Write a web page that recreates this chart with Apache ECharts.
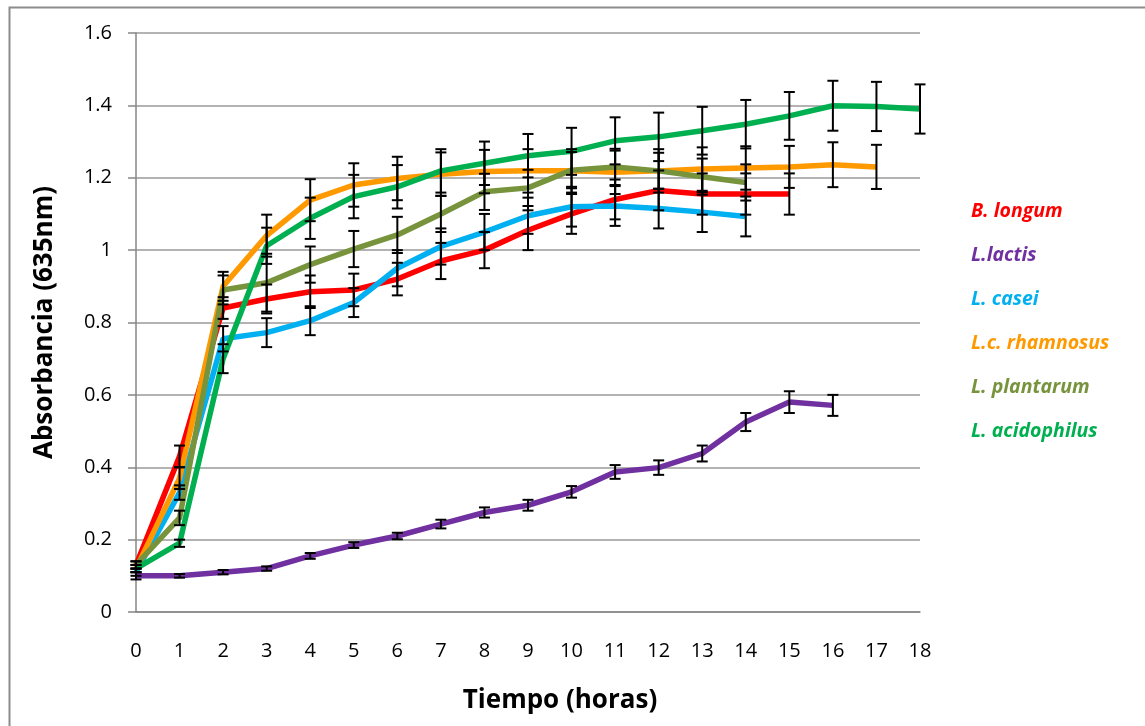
<!DOCTYPE html>
<html>
<head>
<meta charset="utf-8">
<title>Absorbancia vs Tiempo</title>
<script src="https://cdn.jsdelivr.net/npm/echarts@6/dist/echarts.min.js"></script>
<style>
  html, body { margin: 0; padding: 0; background: #fff; }
  #chart { width: 1145px; height: 726px; }
</style>
</head>
<body>
<div id="chart"></div>
<script>
// Time points (hours)
const hours = ['0','1','2','3','4','5','6','7','8','9','10','11','12','13','14','15','16','17','18'];

// Mean absorbance (635 nm) per strain
const longum      = [0.13, 0.43, 0.84, 0.865, 0.885, 0.89, 0.92, 0.97, 1.0, 1.055, 1.10, 1.14, 1.165, 1.155, 1.155, 1.155];
const lactis      = [0.10, 0.10, 0.11, 0.12, 0.155, 0.185, 0.21, 0.243, 0.275, 0.295, 0.332, 0.387, 0.399, 0.438, 0.525, 0.58, 0.571];
const casei       = [0.11, 0.33, 0.755, 0.772, 0.805, 0.855, 0.95, 1.01, 1.05, 1.095, 1.12, 1.122, 1.115, 1.105, 1.093];
const rhamnosus   = [0.12, 0.37, 0.90, 1.04, 1.138, 1.18, 1.198, 1.21, 1.217, 1.219, 1.219, 1.215, 1.219, 1.224, 1.227, 1.23, 1.236, 1.23];
const plantarum   = [0.13, 0.26, 0.89, 0.91, 0.96, 1.003, 1.042, 1.10, 1.161, 1.172, 1.221, 1.23, 1.219, 1.203, 1.187];
const acidophilus = [0.12, 0.19, 0.70, 1.012, 1.088, 1.148, 1.175, 1.219, 1.24, 1.261, 1.273, 1.302, 1.313, 1.33, 1.348, 1.371, 1.399, 1.397, 1.39];

// Standard deviations (error bar half-lengths)
const longumErr      = [0.01, 0.03, 0.03, 0.04, 0.045, 0.045, 0.045, 0.05, 0.05, 0.055, 0.055, 0.055, 0.055, 0.057, 0.057, 0.057];
const lactisErr      = [0.01, 0.005, 0.006, 0.006, 0.008, 0.008, 0.009, 0.012, 0.014, 0.015, 0.016, 0.019, 0.02, 0.022, 0.025, 0.03, 0.029];
const caseiErr       = [0.01, 0.02, 0.035, 0.04, 0.04, 0.04, 0.05, 0.05, 0.05, 0.05, 0.055, 0.055, 0.055, 0.055, 0.055];
const rhamnosusErr   = [0.01, 0.03, 0.04, 0.058, 0.058, 0.06, 0.06, 0.06, 0.06, 0.06, 0.06, 0.06, 0.06, 0.06, 0.06, 0.058, 0.062, 0.061];
const plantarumErr   = [0.01, 0.02, 0.04, 0.08, 0.05, 0.05, 0.05, 0.05, 0.05, 0.05, 0.05, 0.05, 0.05, 0.05, 0.05];
const acidophilusErr = [0.01, 0.01, 0.04, 0.05, 0.057, 0.06, 0.06, 0.06, 0.06, 0.06, 0.065, 0.065, 0.067, 0.066, 0.067, 0.066, 0.069, 0.068, 0.068];

const strains = [
  { name: 'B. longum',      color: '#FF0000', values: longum,      err: longumErr },
  { name: 'L.lactis',       color: '#7030A0', values: lactis,      err: lactisErr },
  { name: 'L. casei',       color: '#00B0F0', values: casei,       err: caseiErr },
  { name: 'L.c. rhamnosus', color: '#FF9900', values: rhamnosus,   err: rhamnosusErr },
  { name: 'L. plantarum',   color: '#77933C', values: plantarum,   err: plantarumErr },
  { name: 'L. acidophilus', color: '#00B050', values: acidophilus, err: acidophilusErr }
];

const FONT = '"Open Sans", Lato, sans-serif';

// Vertical whisker with caps, drawn through the axis scales
function renderErrorBar(params, api) {
  const i = api.value(0);
  const lo = api.coord([i, api.value(1)]);
  const hi = api.coord([i, api.value(2)]);
  const half = 5.5;
  const st = { stroke: '#000', lineWidth: 2 };
  return {
    type: 'group',
    children: [
      { type: 'line', shape: { x1: lo[0], y1: hi[1], x2: lo[0], y2: lo[1] }, style: st },
      { type: 'line', shape: { x1: lo[0] - half, y1: hi[1], x2: lo[0] + half, y2: hi[1] }, style: st },
      { type: 'line', shape: { x1: lo[0] - half, y1: lo[1], x2: lo[0] + half, y2: lo[1] }, style: st }
    ]
  };
}

const series = [];
strains.forEach(s => {
  series.push({
    name: s.name,
    type: 'line',
    data: s.values,
    symbol: 'none',
    lineStyle: { color: s.color, width: 5.5 },
    itemStyle: { color: s.color },
    z: 2
  });
});
strains.forEach(s => {
  series.push({
    name: s.name + ' err',
    type: 'custom',
    renderItem: renderErrorBar,
    data: s.values.map((v, i) => [i, v - s.err[i], v + s.err[i]]),
    encode: { x: 0, y: [1, 2] },
    z: 3,
    silent: true
  });
});

const chart = echarts.init(document.getElementById('chart'), null, { renderer: 'canvas' });
chart.setOption({
  backgroundColor: '#fff',
  animation: false,
  textStyle: { fontFamily: FONT },
  graphic: [{
    type: 'rect',
    left: 7, top: 5,
    shape: { width: 1160, height: 740 },
    style: { fill: 'none', stroke: '#8c8c8c', lineWidth: 2 },
    silent: true
  }],
  grid: { left: 136, right: 225, top: 33, bottom: 114 },
  legend: {
    orient: 'vertical',
    left: 961,
    top: 195,
    itemWidth: 0,
    itemHeight: 0,
    itemGap: 22,
    icon: 'rect',
    selectedMode: false,
    data: strains.map(s => ({
      name: s.name,
      textStyle: { color: s.color, fontFamily: FONT, fontSize: 19.5, fontWeight: 'bold', fontStyle: 'italic', lineHeight: 22 }
    }))
  },
  xAxis: {
    type: 'category',
    data: hours,
    boundaryGap: false,
    name: 'Tiempo (horas)',
    nameLocation: 'middle',
    nameGap: 76,
    nameTextStyle: { fontFamily: FONT, fontSize: 26, fontWeight: 'bold', color: '#000', padding: [0, 0, 0, 64] },
    axisLine: { lineStyle: { color: '#868686', width: 1.5 } },
    axisTick: { show: false },
    axisLabel: { margin: 29, fontFamily: FONT, fontSize: 20, color: '#000', interval: 0 },
    splitLine: { show: false }
  },
  yAxis: {
    type: 'value',
    min: 0, max: 1.6, interval: 0.2,
    name: 'Absorbancia (635nm)',
    nameLocation: 'middle',
    nameGap: 78,
    nameTextStyle: { fontFamily: FONT, fontSize: 26, fontWeight: 'bold', color: '#000' },
    axisLine: { show: true, lineStyle: { color: '#868686', width: 1.5 } },
    axisTick: { show: true, length: 8, lineStyle: { color: '#868686', width: 1.5 } },
    axisLabel: { margin: 24, fontFamily: FONT, fontSize: 20, color: '#000' },
    splitLine: { show: true, lineStyle: { color: '#9a9a9a', width: 1.5 } }
  },
  series: series
});
</script>
</body>
</html>
